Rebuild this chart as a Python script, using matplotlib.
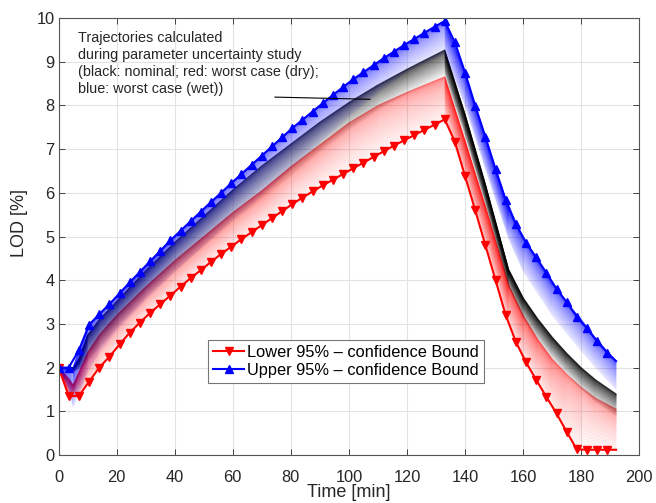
import matplotlib.pyplot as plt
import numpy as np

plt.rcParams['font.family'] = ['Liberation Sans', 'DejaVu Sans']

# time grid of the 95% bounds [min]
t_bound = list(np.arange(0, 189.1, 3.5)) + [192]

lower_bound = [2.0, 1.35, 1.35, 1.68, 2.0, 2.25, 2.53, 2.8, 3.03, 3.25, 3.45, 3.65, 3.85,
               4.05, 4.23, 4.42, 4.6, 4.77, 4.94, 5.1, 5.26, 5.42, 5.58, 5.74, 5.89, 6.03,
               6.17, 6.3, 6.43, 6.56, 6.69, 6.82, 6.95, 7.08, 7.2, 7.32, 7.44, 7.56, 7.68,
               7.17, 6.38, 5.6, 4.8, 4.0, 3.2, 2.59, 2.12, 1.72, 1.33, 0.95, 0.53, 0.13,
               0.12, 0.12, 0.12, 0.12]
upper_bound = [2.0, 2.0, 2.4, 2.98, 3.22, 3.45, 3.7, 3.95, 4.19, 4.43, 4.67, 4.91, 5.13,
               5.35, 5.57, 5.79, 6.0, 6.22, 6.43, 6.64, 6.85, 7.06, 7.27, 7.48, 7.67, 7.86,
               8.05, 8.24, 8.42, 8.6, 8.76, 8.92, 9.08, 9.23, 9.38, 9.52, 9.66, 9.8, 9.93,
               9.44, 8.75, 7.99, 7.28, 6.54, 5.84, 5.29, 4.86, 4.52, 4.17, 3.8, 3.5, 3.16,
               2.9, 2.6, 2.34, 2.15]

# edges of the trajectory families from the uncertainty study
t_fan = [0, 3.5, 5, 7, 10, 14, 20, 30, 40, 50, 60, 70, 80, 90, 100, 110, 120, 133,
         140, 147, 155, 160, 165, 170, 175, 180, 185, 192]
wet_hi = [2.0, 2.0, 2.0, 2.4, 2.9, 3.22, 3.63, 4.3, 5.0, 5.62, 6.25, 6.85, 7.45, 8.0,
          8.52, 8.98, 9.42, 9.93, 8.75, 7.28, 5.62, 4.98, 4.44, 3.93, 3.5, 3.1, 2.67, 2.15]
wet_lo = [2.0, 1.5, 1.1, 1.4, 1.9, 2.35, 2.85, 3.55, 4.2, 4.8, 5.4, 5.95, 6.55, 7.15,
          7.75, 8.3, 8.78, 9.2, 8.0, 6.55, 4.95, 4.2, 3.7, 3.2, 2.78, 2.38, 2.0, 1.5]
nom_hi = [2.0, 2.0, 2.0, 2.2, 2.75, 3.1, 3.52, 4.22, 4.87, 5.47, 6.07, 6.62, 7.12, 7.62,
          8.07, 8.47, 8.83, 9.27, 7.8, 6.2, 4.25, 3.6, 3.12, 2.7, 2.33, 2.0, 1.72, 1.4]
nom_lo = [2.0, 1.95, 1.9, 1.95, 2.15, 2.45, 2.9, 3.6, 4.2, 4.78, 5.35, 5.88, 6.4, 6.95,
          7.45, 7.9, 8.28, 8.7, 7.3, 5.75, 3.85, 3.15, 2.65, 2.22, 1.85, 1.52, 1.22, 0.9]
dry_hi = [2.0, 1.75, 1.6, 1.9, 2.35, 2.75, 3.2, 3.85, 4.45, 5.0, 5.55, 6.05, 6.6, 7.1,
          7.6, 8.0, 8.3, 8.66, 7.2, 5.7, 3.9, 3.2, 2.65, 2.2, 1.85, 1.55, 1.3, 1.05]
dry_lo = [2.0, 1.35, 1.3, 1.35, 1.63, 2.0, 2.45, 3.15, 3.72, 4.28, 4.77, 5.26, 5.72,
          6.12, 6.5, 6.87, 7.22, 7.68, 6.38, 4.8, 3.02, 2.25, 1.66, 1.11, 0.53, 0.12,
          0.12, 0.12]

fig = plt.figure(figsize=(6.56, 5.03), dpi=100)
ax = fig.add_axes([0.0893, 0.0954, 0.8852, 0.8688])

# fan of trajectories, one family at a time (dry, nominal, wet)
families = [(dry_hi, dry_lo, 'red', 0.32, 0.05),
            (nom_hi, nom_lo, 'black', 0.38, 0.04),
            (wet_hi, wet_lo, 'blue', 0.30, 0.06)]
n_lines = 45
for hi, lo, col, a_top, a_bot in families:
    hi = np.array(hi)
    lo = np.array(lo)
    for k in range(n_lines):
        w = (k / (n_lines - 1)) ** 1.3
        ax.plot(t_fan, (1 - w) * hi + w * lo, color=col, lw=0.7,
                alpha=a_top * (1 - w) + a_bot * w)

marks = list(range(len(t_bound) - 1))
ax.plot(t_bound, lower_bound, '-v', color='red', lw=1.5, ms=5.5, markevery=marks,
        label='Lower 95% – confidence Bound')
ax.plot(t_bound, upper_bound, '-^', color='blue', lw=1.5, ms=5.5, markevery=marks,
        label='Upper 95% – confidence Bound')

ax.text(6.8, 9.7, 'Trajectories calculated\nduring parameter uncertainty study\n'
        '(black: nominal; red: worst case (dry);\nblue: worst case (wet))',
        fontsize=10.4, color='#262626', va='top', ha='left', linespacing=1.28)
ax.plot([74.5, 107.2], [8.19, 8.14], color='black', lw=0.8)

ax.set_xlim(0, 200)
ax.set_ylim(0, 10)
ax.set_xticks(np.arange(0, 201, 20))
ax.set_yticks(np.arange(0, 11, 1))
ax.tick_params(direction='in', top=True, right=True, labelsize=11.8,
               colors='#262626', length=4, width=0.6, pad=3)
ax.tick_params(axis='x', pad=11)
for s in ax.spines.values():
    s.set_color('#555555')
    s.set_linewidth(0.8)
ax.grid(True, color='#e3e3e3', lw=0.8)
ax.set_axisbelow(True)
ax.set_xlabel('Time [min]', fontsize=13, color='#262626', labelpad=-1)
ax.set_ylabel('LOD [%]', fontsize=13, color='#262626')
ax.yaxis.set_label_coords(-0.052, 0.53)

leg = ax.legend(loc='lower left', bbox_to_anchor=(0.258, 0.165), fontsize=11.8,
                fancybox=False, framealpha=1, edgecolor='#777777', handlelength=1.9,
                handletextpad=0.15, borderpad=0.3, labelspacing=0.18, borderaxespad=0)
leg.get_frame().set_linewidth(0.8)

fig.savefig('out.png', dpi=100)
